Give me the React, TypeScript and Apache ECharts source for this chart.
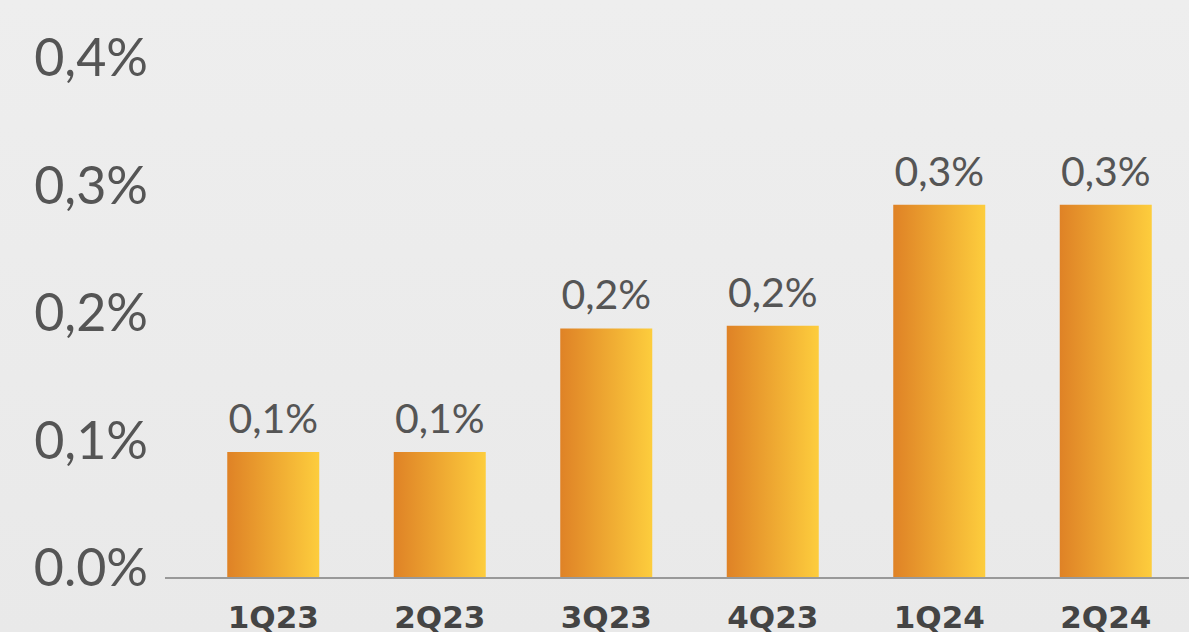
import { useEffect, useRef } from 'react'
import * as echarts from 'echarts'

const categories = ['1Q23', '2Q23', '3Q23', '4Q23', '1Q24', '2Q24']
const values = [0.098, 0.098, 0.195, 0.197, 0.292, 0.292]
const valueLabels = ['0,1%', '0,1%', '0,2%', '0,2%', '0,3%', '0,3%']
const yTickLabels: Record<string, string> = {
  '0': '0.0%',
  '0.1': '0,1%',
  '0.2': '0,2%',
  '0.3': '0,3%',
  '0.4': '0,4%',
}

export default function App() {
  const chartRef = useRef<HTMLDivElement>(null)

  useEffect(() => {
    if (!chartRef.current) return
    const chart = echarts.init(chartRef.current, null, { renderer: 'svg' })

    chart.setOption({
      animation: false,
      backgroundColor: new echarts.graphic.LinearGradient(0, 0, 0, 1, [
        { offset: 0, color: '#eeeeee' },
        { offset: 1, color: '#e9e9e9' },
      ]),
      grid: { left: 190, right: -9, top: 67, bottom: 54 },
      xAxis: {
        type: 'category',
        data: categories,
        axisLine: { show: false },
        axisTick: { show: false },
        axisLabel: {
          margin: 24,
          fontSize: 31,
          fontWeight: 'bold',
          color: '#444',
          fontFamily: 'DejaVu Sans',
        },
      },
      yAxis: {
        type: 'value',
        min: 0,
        max: 0.4,
        interval: 0.1,
        splitLine: { show: false },
        axisLine: { show: false },
        axisTick: { show: false },
        axisLabel: {
          margin: 42,
          fontSize: 52,
          color: '#555',
          fontFamily: 'Lato',
          verticalAlign: 'bottom',
          lineHeight: 22,
          formatter: (v: number) => yTickLabels[String(Math.round(v * 10) / 10)] ?? '',
        },
      },
      graphic: [
        {
          type: 'line',
          shape: { x1: 165, y1: 578, x2: 1189, y2: 578 },
          style: { stroke: '#999', lineWidth: 2 },
        },
      ],
      series: [
        {
          type: 'bar',
          data: values,
          barWidth: 92,
          itemStyle: {
            color: new echarts.graphic.LinearGradient(0, 0, 1, 0, [
              { offset: 0, color: '#df8226' },
              { offset: 1, color: '#fdcd3d' },
            ]),
          },
          label: {
            show: true,
            position: 'top',
            distance: 14,
            fontSize: 41,
            color: '#555',
            fontFamily: 'Lato',
            formatter: (p: any) => valueLabels[p.dataIndex],
          },
        },
      ],
    })

    return () => chart.dispose()
  }, [])

  return (
    <div
      ref={chartRef}
      style={{ position: 'fixed', left: 0, top: 0, width: 1189, height: 632 }}
    />
  )
}
